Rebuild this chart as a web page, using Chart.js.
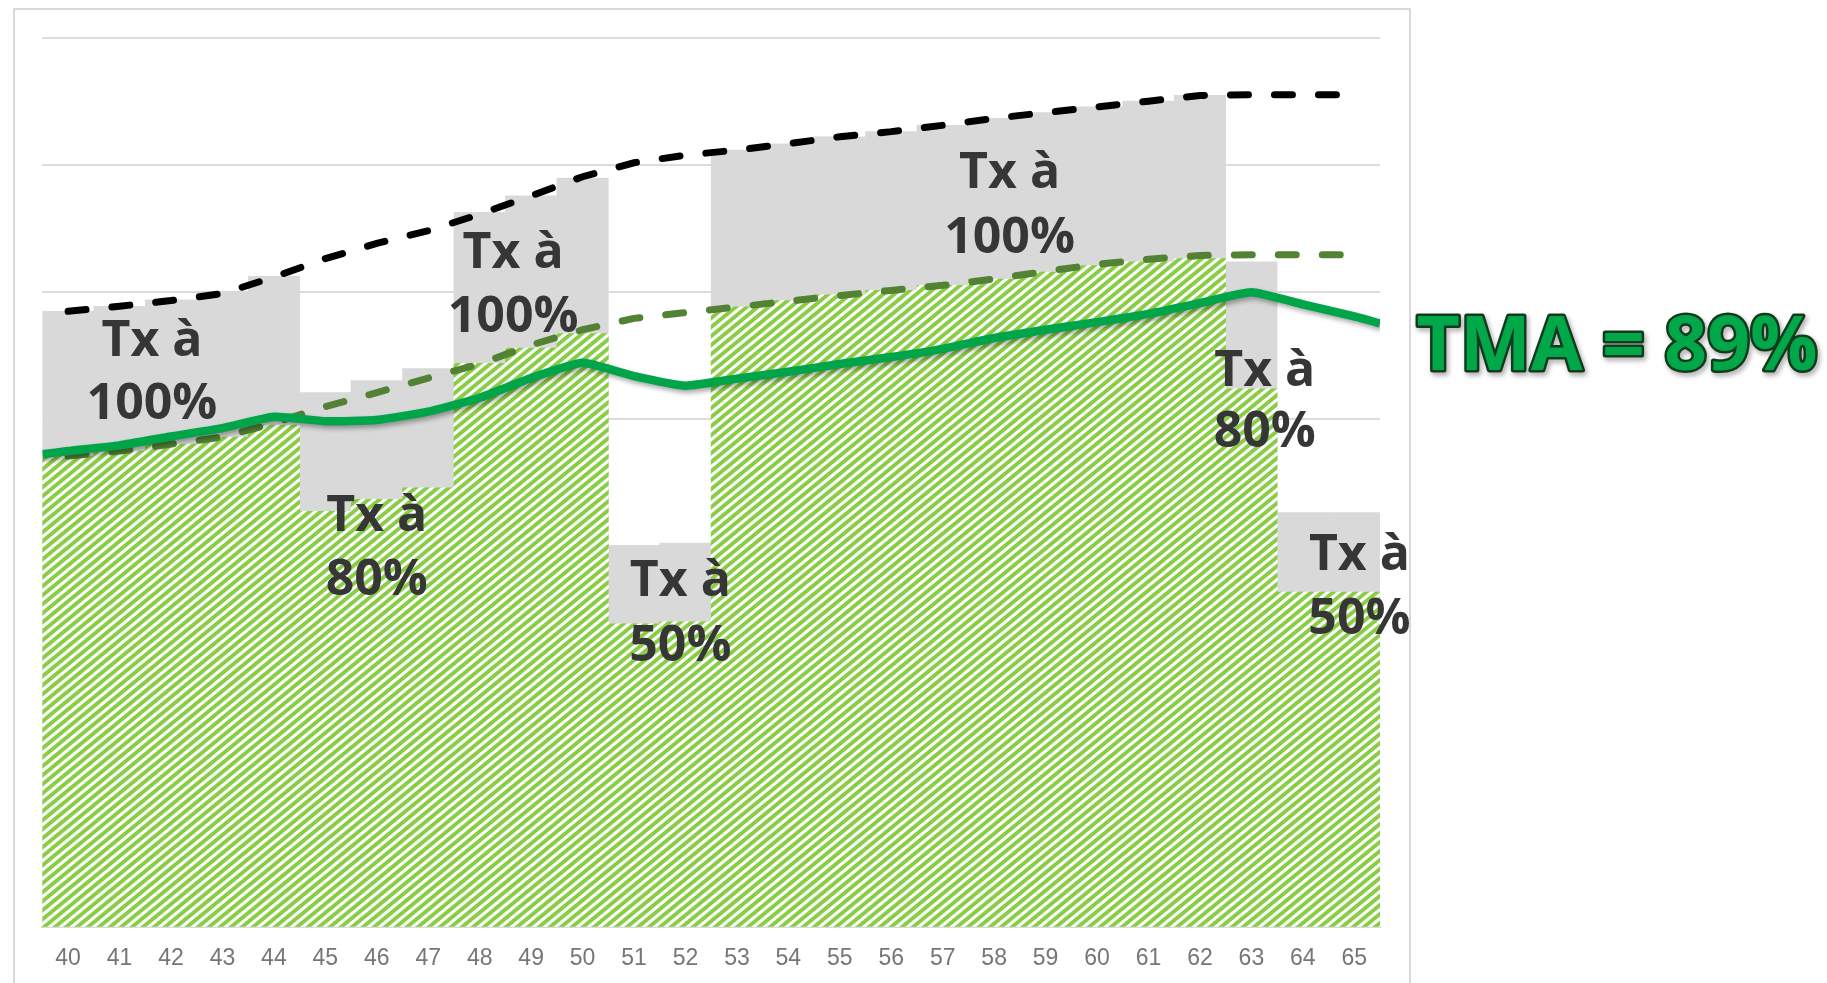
<!DOCTYPE html>
<html>
<head>
<meta charset="utf-8">
<script src="https://cdn.jsdelivr.net/npm/chart.js@4.4.1/dist/chart.umd.min.js"></script>
<style>
  html, body { margin: 0; padding: 0; background: #ffffff; overflow: hidden; }
  #wrap { position: relative; width: 1827px; height: 983px; overflow: hidden; }
</style>
</head>
<body>
<div id="wrap"><canvas id="c" width="1827" height="1000"></canvas></div>
<script>
// ---- data (values in thousands, y axis 0..70) ----
const ages = ['40','41','42','43','44','45','46','47','48','49','50','51','52','53','54','55','56','57','58','59','60','61','62','63','64','65'];
const salary = [48.5, 48.9, 49.35, 49.9, 51.2, 52.65, 53.85, 54.85, 56.15, 57.6, 59.1, 60.2, 60.8, 61.2, 61.7, 62.25, 62.65, 63.15, 63.7, 64.15, 64.6, 65.05, 65.5, 65.55, 65.55, 65.55];
const grayBar = [48.5, 48.9, 49.4, 50.05, 51.25, 42.1, 43.05, 44.0, 56.3, 57.6, 59.0, 30.0, 30.25, 61.2, 61.7, 62.25, 62.65, 63.15, 63.7, 64.15, 64.6, 65.05, 65.5, 52.4, 32.65, 32.65];
const hatchedBar = [37.1, 37.5, 38.05, 38.6, 39.55, 32.75, 33.7, 34.6, 44.4, 45.6, 46.75, 23.9, 24.05, 48.85, 49.35, 49.8, 50.15, 50.55, 51.05, 51.6, 52.1, 52.4, 52.65, 42.4, 26.4, 26.4];
const line80 = [37.1, 37.5, 38.05, 38.6, 39.7, 41.0, 42.1, 43.25, 44.35, 45.85, 47.05, 47.95, 48.4, 48.85, 49.3, 49.75, 50.15, 50.55, 51.05, 51.65, 52.2, 52.6, 52.9, 52.95, 52.95, 52.95];
const tma = [37.5, 37.95, 38.65, 39.3, 40.2, 39.85, 39.95, 40.6, 41.7, 43.25, 44.45, 43.4, 42.65, 43.2, 43.75, 44.35, 44.9, 45.55, 46.4, 47.05, 47.65, 48.3, 49.15, 50.0, 49.05, 48.1];
const tmaStart = 37.25;   // value where the TMA line enters the plot (left edge)
const tmaEnd = 47.55;     // value where the TMA line leaves the plot (right edge)
const rateLabels = ['Tx à 100%', 'Tx à 80%', 'Tx à 100%', 'Tx à 50%', 'Tx à 100%', 'Tx à 80%', 'Tx à 50%'];
const tmaLabel = 'TMA = 89%';

// ---- helpers ----
function hatchPattern() {
  const w = 11, h = 9;
  const c = document.createElement('canvas');
  c.width = w; c.height = h;
  const g = c.getContext('2d');
  g.fillStyle = '#ffffff';
  g.fillRect(0, 0, w, h);
  g.strokeStyle = '#89cd45';
  g.lineWidth = 3.9;
  const sl = h / w;
  for (let k = 0; k < 3; k++) {
    g.beginPath();
    g.moveTo(-3, k * h + 3 * sl);
    g.lineTo(w + 3, k * h - h - 3 * sl);
    g.stroke();
  }
  return g.createPattern(c, 'repeat');
}

const ageNums = ages.map(Number);
const tmaPoints = [{x: ageNums[0] - 0.5, y: tmaStart}]
  .concat(ageNums.map((a, i) => ({x: a, y: tma[i]})))
  .concat([{x: ageNums[ageNums.length - 1] + 0.5, y: tmaEnd}]);

// annotation anchors (age position, baseline values of the two text lines)
const annotPos = [
  {x: 41.63, v: [45.0, 40.0]},
  {x: 46.0,  v: [31.2, 26.2]},
  {x: 48.65, v: [51.95, 46.85]},
  {x: 51.9,  v: [26.05, 21.0]},
  {x: 58.3,  v: [58.25, 53.1]},
  {x: 63.26, v: [42.65, 37.8]},
  {x: 65.1,  v: [28.1, 23.1]}
];
const tmaLabelPos = {x: 66.21, v: 43.87};

const decoPlugin = {
  id: 'deco',
  beforeDraw(chart) {
    const ctx = chart.ctx;
    ctx.save();
    ctx.strokeStyle = '#d9d9d9';
    ctx.lineWidth = 2;
    ctx.strokeRect(14, 9, 1396, 1100);
    ctx.restore();
  },
  beforeDatasetDraw(chart, args) {
    if (args.index === 0) {
      const ctx = chart.ctx;
      ctx.save();
      ctx.shadowColor = 'rgba(0,0,0,0.35)';
      ctx.shadowBlur = 5;
      ctx.shadowOffsetX = 2;
      ctx.shadowOffsetY = 3;
    }
  },
  afterDatasetDraw(chart, args) {
    if (args.index === 0) chart.ctx.restore();
  },
  afterDatasetsDraw(chart) {
    const ctx = chart.ctx;
    const xs = chart.scales.xl, ys = chart.scales.y;
    ctx.save();
    ctx.font = 'bold 50px "Open Sans"';
    ctx.fillStyle = '#363636';
    ctx.textAlign = 'center';
    ctx.textBaseline = 'alphabetic';
    rateLabels.forEach((txt, i) => {
      const p = annotPos[i];
      const parts = [txt.slice(0, 4), txt.slice(5)];
      const px = xs.getPixelForValue(p.x);
      parts.forEach((t, j) => ctx.fillText(t, px, ys.getPixelForValue(p.v[j])));
    });
    // TMA label
    const tx = xs.getPixelForValue(tmaLabelPos.x);
    const ty = ys.getPixelForValue(tmaLabelPos.v);
    ctx.font = 'bold 75px "Open Sans"';
    ctx.textAlign = 'left';
    ctx.lineJoin = 'round';
    ctx.shadowColor = 'rgba(0,0,0,0.35)';
    ctx.shadowBlur = 5;
    ctx.shadowOffsetX = 2;
    ctx.shadowOffsetY = 3;
    ctx.strokeStyle = '#123a1c';
    ctx.lineWidth = 5;
    ctx.strokeText(tmaLabel, tx, ty);
    ctx.shadowColor = 'transparent';
    ctx.fillStyle = '#00a84a';
    ctx.fillText(tmaLabel, tx, ty);
    ctx.restore();
  }
};

new Chart(document.getElementById('c'), {
  type: 'bar',
  data: {
    labels: ages,
    datasets: [
      {
        type: 'line', label: 'TMA', xAxisID: 'xl', data: tmaPoints,
        borderColor: '#00a54a', borderWidth: 8.5, pointRadius: 0, tension: 0.15,
        borderJoinStyle: 'round', borderCapStyle: 'butt', order: 0
      },
      {
        type: 'line', label: 'Salaire', xAxisID: 'x', data: salary,
        borderColor: '#000000', borderWidth: 7, pointRadius: 0, tension: 0,
        borderDash: [18, 26], borderCapStyle: 'round', order: 1
      },
      {
        type: 'line', label: '80%', xAxisID: 'x', data: line80,
        borderColor: '#548235', borderWidth: 7, pointRadius: 0, tension: 0,
        borderDash: [18, 26], borderCapStyle: 'round', order: 1
      },
      {
        label: 'Pension', xAxisID: 'x', data: hatchedBar,
        backgroundColor: hatchPattern(), borderWidth: 0,
        categoryPercentage: 1, barPercentage: 1, grouped: false, order: 2
      },
      {
        label: 'Revenu', xAxisID: 'x', data: grayBar,
        backgroundColor: '#d9d9d9', borderWidth: 0,
        categoryPercentage: 1, barPercentage: 1, grouped: false, order: 3
      }
    ]
  },
  options: {
    responsive: false,
    animation: false,
    events: [],
    layout: { padding: { left: 42.4, right: 447, top: 38.3, bottom: 9.7 } },
    plugins: { legend: { display: false }, tooltip: { enabled: false } },
    scales: {
      x: {
        type: 'category', position: 'bottom', offset: true,
        grid: { display: false, drawTicks: false },
        border: { display: true, color: '#d9d9d9', width: 2 },
        ticks: { color: '#767676', padding: 17.7, font: { family: '"Liberation Sans", Arial, sans-serif', size: 23 }, maxRotation: 0, autoSkip: false }
      },
      xl: {
        type: 'linear', display: false, offset: false, min: 39.5, max: 65.5,
        grid: { offset: false }
      },
      y: {
        min: 0, max: 70,
        ticks: { display: false, stepSize: 10 },
        grid: { color: '#dcdcdc', lineWidth: 2, drawTicks: false },
        border: { display: false }
      }
    }
  },
  plugins: [decoPlugin]
});
</script>
</body>
</html>
